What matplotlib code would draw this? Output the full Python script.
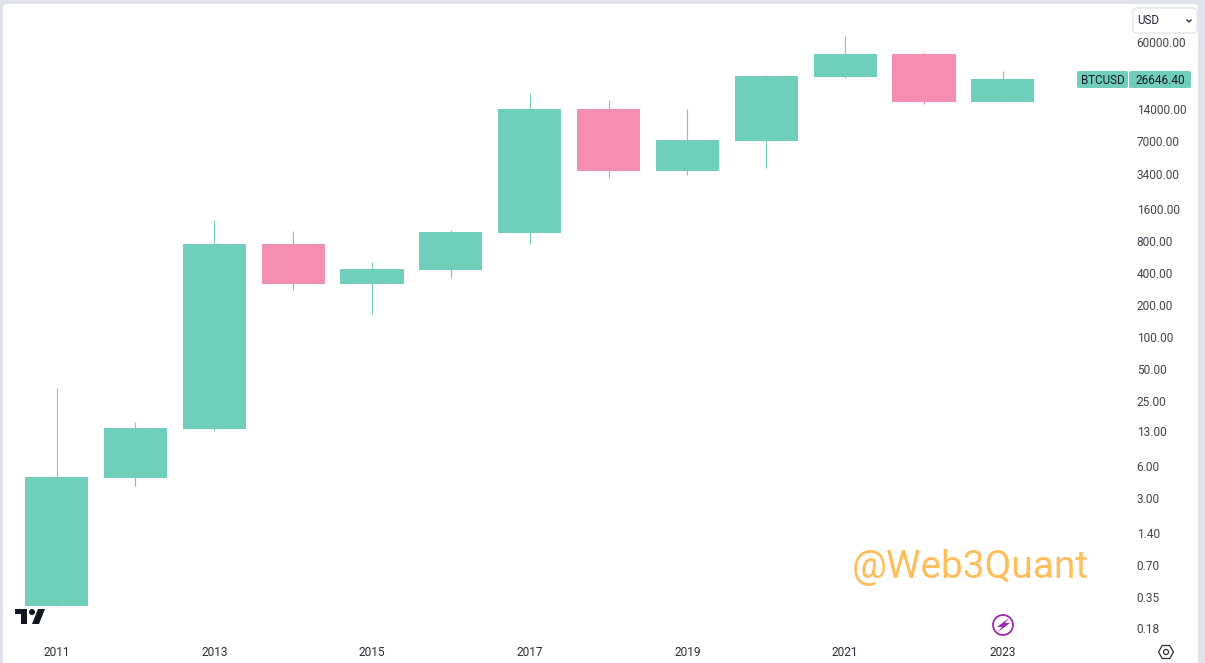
import numpy as np
import matplotlib
matplotlib.use("Agg")
import matplotlib.pyplot as plt
from matplotlib.patches import Circle, FancyBboxPatch, Polygon, RegularPolygon

plt.rcParams['font.family'] = ['Roboto', 'DejaVu Sans']

years = [2011, 2012, 2013, 2014, 2015, 2016, 2017, 2018, 2019, 2020, 2021, 2022, 2023]
opens = [0.29, 4.7, 13.5, 748, 314, 426, 950, 14030, 3650, 7000, 28050, 46200, 16300]
closes = [4.77, 13.8, 748, 314, 435, 971, 14030, 3650, 7140, 28700, 46200, 16300, 26646.4]
highs = [32.9, 15.7, 1259, 993, 507, 1023, 19800, 17000, 14030, 29300, 68300, 48300, 32000]
lows = [0.29, 3.92, 12.9, 276, 164, 358, 748, 3130, 3340, 3890, 27400, 15600, 16300]

price_ticks = [60000, 14000, 7000, 3400, 1600, 800, 400, 200, 100, 50, 25, 13, 6, 3, 1.4, 0.7, 0.35, 0.18]
year_ticks = [2011, 2013, 2015, 2017, 2019, 2021, 2023]

up_col = "#70CEBC"
down_col = "#F48FB1"
txt_col = "#434651"
W, H = 1205, 663

fig = plt.figure(figsize=(W/100, H/100), dpi=100, facecolor="#E0E3EB")

# white chart card
bg = fig.add_axes([0, 0, 1, 1])
bg.set_xlim(0, W)
bg.set_ylim(H, 0)
bg.axis("off")
bg.add_patch(FancyBboxPatch((3, 4), 1195, 680, boxstyle="round,pad=0,rounding_size=4",
                            fc="white", ec="none"))

# main candles
ax = fig.add_axes([3/W, (H-640)/H, 1126/W, 636/H])
ax.patch.set_alpha(0)
ax.set_yscale("log")
ax.set_xlim(2010.32, 2024.6)
ax.set_ylim(0.1387, 136800)

cols = [up_col if c >= o else down_col for o, c in zip(opens, closes)]
bottoms = np.minimum(opens, closes)
heights = np.abs(np.array(closes) - np.array(opens))
ax.vlines(years, lows, highs, colors=cols, linewidth=0.8)
ax.bar(years, heights, bottom=bottoms, width=0.8, color=cols, linewidth=0)

ax.yaxis.tick_right()
ax.set_yticks(price_ticks)
ax.set_yticklabels([f"{p:.2f}" for p in price_ticks])
ax.minorticks_off()
ax.set_xticks(year_ticks)
ax.set_xticklabels([str(y) for y in year_ticks])
ax.tick_params(axis="y", length=0, pad=5.5, labelsize=8.6, labelcolor=txt_col)
ax.tick_params(axis="x", length=0, pad=4.3, labelsize=8.6, labelcolor="#2A2E39")
for s in ax.spines.values():
    s.set_visible(False)

# overlay in pixels for tags, logo and icons
ov = fig.add_axes([0, 0, 1, 1])
ov.set_xlim(0, W)
ov.set_ylim(H, 0)
ov.axis("off")
ov.patch.set_alpha(0)

ov.text(970, 568, "@Web3Quant", color="#FFBE5C", fontsize=28, ha="center", va="center")

# last price tag
ov.add_patch(FancyBboxPatch((1077, 71), 51, 17, boxstyle="round,pad=0,rounding_size=2", fc=up_col, ec="none"))
ov.add_patch(FancyBboxPatch((1129, 71), 62, 17, boxstyle="round,pad=0,rounding_size=2", fc=up_col, ec="none"))
ov.text(1102.5, 80, "BTCUSD", color="#131722", fontsize=8.4, ha="center", va="center")
ov.text(1160.5, 80, "26646.40", color="#131722", fontsize=8.6, ha="center", va="center")

# currency dropdown
ov.add_patch(FancyBboxPatch((1133, 8), 64, 25, boxstyle="round,pad=0,rounding_size=4",
                            fc="white", ec="#E0E3EB", lw=0.9))
ov.text(1137, 20.5, "USD", color="#2A2040", fontsize=8.4, ha="left", va="center")
ov.plot([1187, 1189, 1191], [20, 22, 20], color="#2A2E39", lw=1)

# tradingview logo
logo = "#131722"
ov.add_patch(Polygon([(15, 609), (27, 609), (27, 624), (21, 624), (21, 614), (15, 614)], fc=logo, ec="none"))
ov.add_patch(Circle((32, 612), 3, fc=logo, ec="none"))
ov.add_patch(Polygon([(38, 609), (45, 609), (39, 624), (32, 624)], fc=logo, ec="none"))

# bolt icon
ov.add_patch(Circle((1003, 625), 10, fc="white", ec="#9C27B0", lw=1.3))
ov.add_patch(Polygon([(1009, 618), (997, 627), (1002, 627), (998, 632), (1010, 623), (1005, 623)],
                     fc="#9C27B0", ec="none"))

# settings icon
ov.add_patch(RegularPolygon((1166, 652), 6, radius=7.5, orientation=np.pi/2, fc="white", ec="#2A2E39", lw=0.9))
ov.add_patch(Circle((1166, 652), 2.5, fc="white", ec="#2A2E39", lw=0.9))

fig.savefig("out.png", dpi=100, facecolor=fig.get_facecolor())
